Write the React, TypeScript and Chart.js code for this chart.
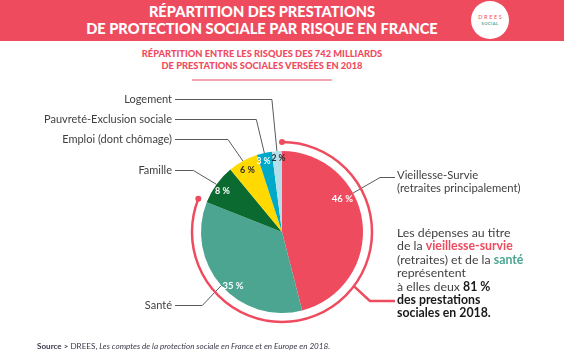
import React, { useEffect, useRef } from "react";
import { Chart, registerables } from "chart.js";

Chart.register(...registerables);

// ---- data ----
const categories = [
  "Vieillesse-Survie",
  "Santé",
  "Famille",
  "Emploi (dont chômage)",
  "Pauvreté-Exclusion sociale",
  "Logement",
];
const shares = [46, 35, 8, 6, 3, 2];
const shareLabels = ["46 %", "35 %", "8 %", "6 %", "3 %", "2 %"];

// ---- styles ----
const PINK = "#ef4b5f";
const TEAL = "#4ba591";
const sliceColors = [PINK, TEAL, "#0b6a30", "#ffd900", "#00a9c8", "#b4deea"];
const labelColors = ["#ffffff", "#ffffff", "#ffffff", "#2b2b2b", "#ffffff", "#2b2b2b"];
const labelAnchor = [0.37, 0.45, 0.44, 0.49, 0.3, 0.62];
const labelRadius = [0.85, 0.9, 0.89, 0.88, 0.9, 0.91];
const labelSize = [9.5, 9.5, 9, 9, 8.5, 8.5];
const leaderAnchor = [0.37, 0.5, 0.5, 0.5, 0.5, 0.5];
const leaderTextY = [177, 305, 170, 139, 119, 99];
const leaderElbowDx = [27, -19, -23, -15, -8, -5];
const LEFT_LINE_END = 175;
const RIGHT_LINE_END = 395;

const overlayPlugin = {
  id: "overlay",
  afterDatasetsDraw(chart: any) {
    const ctx = chart.ctx;
    const arcs = chart.getDatasetMeta(0).data;
    if (!arcs.length) return;
    const pt = (arc: any, frac: number, rf: number) => {
      const p = arc.getProps(["x", "y", "startAngle", "endAngle", "outerRadius"], true);
      const a = p.startAngle + frac * (p.endAngle - p.startAngle);
      return { x: p.x + Math.cos(a) * p.outerRadius * rf, y: p.y + Math.sin(a) * p.outerRadius * rf };
    };
    ctx.save();
    // percentage labels
    ctx.textAlign = "center";
    ctx.textBaseline = "middle";
    arcs.forEach((arc: any, i: number) => {
      const q = pt(arc, labelAnchor[i], labelRadius[i]);
      ctx.font = `bold ${labelSize[i]}px Lato, 'Open Sans', sans-serif`;
      ctx.fillStyle = labelColors[i];
      ctx.fillText(shareLabels[i], q.x, q.y);
    });
    // leader lines
    ctx.strokeStyle = "#5a5a5a";
    ctx.lineWidth = 1;
    arcs.forEach((arc: any, i: number) => {
      const e = pt(arc, leaderAnchor[i], 1);
      const ex = e.x + leaderElbowDx[i];
      const end = i === 0 ? RIGHT_LINE_END : LEFT_LINE_END;
      ctx.beginPath();
      ctx.moveTo(e.x, e.y);
      ctx.lineTo(ex, leaderTextY[i] + 0.5);
      ctx.lineTo(end, leaderTextY[i] + 0.5);
      ctx.stroke();
    });
    // red highlight arc around the two largest slices
    const a0 = arcs[0].getProps(["x", "y", "startAngle", "outerRadius"], true);
    const a1 = arcs[1].getProps(["endAngle"], true);
    const R = a0.outerRadius + 9;
    ctx.strokeStyle = PINK;
    ctx.fillStyle = PINK;
    ctx.lineWidth = 2.5;
    ctx.beginPath();
    ctx.arc(a0.x, a0.y, R, a0.startAngle, a1.endAngle);
    ctx.stroke();
    [a0.startAngle, a1.endAngle].forEach((a: number) => {
      ctx.beginPath();
      ctx.arc(a0.x + Math.cos(a) * R, a0.y + Math.sin(a) * R, 3, 0, Math.PI * 2);
      ctx.fill();
    });
    // connector from arc to the comment
    const ca = a0.startAngle + (127 / 360) * Math.PI * 2;
    const cx = a0.x + Math.cos(ca) * R;
    const cy = a0.y + Math.sin(ca) * R;
    ctx.beginPath();
    ctx.moveTo(cx, cy);
    ctx.lineTo(cx + 16, 301);
    ctx.lineTo(RIGHT_LINE_END, 301);
    ctx.stroke();
    ctx.restore();
  },
};

const textStyle: React.CSSProperties = {
  position: "absolute",
  fontFamily: "Lato, 'Open Sans', sans-serif",
  color: "#3f3f3f",
  whiteSpace: "nowrap",
};

function LeftLabel({ y, text }: { y: number; text: string }) {
  return (
    <div style={{ ...textStyle, right: 564 - 172, top: y - 7, fontSize: 11, lineHeight: "14px", textAlign: "right" }}>
      {text}
    </div>
  );
}

export default function App() {
  const ref = useRef<HTMLCanvasElement | null>(null);
  useEffect(() => {
    if (!ref.current) return;
    const chart = new Chart(ref.current, {
      type: "pie",
      data: {
        labels: categories,
        datasets: [{ data: shares, backgroundColor: sliceColors, borderWidth: 0 }],
      },
      options: {
        responsive: false,
        animation: false,
        layout: { padding: { left: 201, right: 201, top: 151, bottom: 43 } },
        plugins: { legend: { display: false }, tooltip: { enabled: false } },
      },
      plugins: [overlayPlugin],
    });
    return () => chart.destroy();
  }, []);

  return (
    <div style={{ position: "absolute", left: 0, top: 0, width: 564, height: 356, background: "#fff", overflow: "hidden" }}>
      {/* header band */}
      <div style={{ position: "absolute", left: 0, top: 0, width: 564, height: 41, background: PINK }} />
      <div
        style={{
          position: "absolute", left: 0, top: 3, width: 524, textAlign: "center", color: "#fff",
          fontFamily: "Lato, 'Open Sans', sans-serif", fontWeight: 900, fontSize: 14.6, lineHeight: "17px",
        }}
      >
        RÉPARTITION DES PRESTATIONS
        <br />
        DE PROTECTION SOCIALE PAR RISQUE EN FRANCE
      </div>
      {/* logo */}
      <div
        style={{
          position: "absolute", left: 471, top: 1, width: 38, height: 38, borderRadius: "50%", background: "#fff",
          display: "flex", flexDirection: "column", alignItems: "center", justifyContent: "center",
          fontFamily: "Lato, sans-serif",
        }}
      >
        <div style={{ color: PINK, fontSize: 5.5, letterSpacing: 1.6, lineHeight: "7px", marginLeft: 1.6 }}>DREES</div>
        <div style={{ color: TEAL, fontSize: 4, fontWeight: 700, letterSpacing: 0.5, lineHeight: "5px" }}>SOCIAL</div>
      </div>
      {/* subtitle */}
      <div
        style={{
          position: "absolute", left: 0, top: 48, width: 524, textAlign: "center", color: PINK,
          fontFamily: "Lato, 'Open Sans', sans-serif", fontWeight: 900, fontSize: 9.3, lineHeight: "12px",
        }}
      >
        RÉPARTITION ENTRE LES RISQUES DES 742 MILLIARDS
        <br />
        DE PRESTATIONS SOCIALES VERSÉES EN 2018
      </div>
      <div style={{ position: "absolute", left: 192, top: 79, width: 140, height: 2, background: "#f5a7b1" }} />

      <canvas ref={ref} width={564} height={356} style={{ position: "absolute", left: 0, top: 0, width: 564, height: 356 }} />

      {/* left labels */}
      <LeftLabel y={99} text="Logement" />
      <LeftLabel y={119} text="Pauvreté-Exclusion sociale" />
      <LeftLabel y={139} text="Emploi (dont chômage)" />
      <LeftLabel y={170} text="Famille" />
      <LeftLabel y={305} text="Santé" />

      {/* right label */}
      <div style={{ ...textStyle, left: 397, top: 169, fontSize: 11.3, lineHeight: "12.5px" }}>
        Vieillesse-Survie
        <br />
        (retraites principalement)
      </div>

      {/* comment */}
      <div style={{ ...textStyle, left: 397, top: 226, fontSize: 12.3, lineHeight: "13.4px" }}>
        Les dépenses au titre
        <br />
        de la <b style={{ color: PINK }}>vieillesse-survie</b>
        <br />
        (retraites) et de la <b style={{ color: TEAL }}>santé</b>
        <br />
        représentent
        <br />
        à elles deux <b style={{ color: "#1a1a1a" }}>81 %</b>
        <br />
        <b style={{ color: "#1a1a1a" }}>des prestations</b>
        <br />
        <b style={{ color: "#1a1a1a" }}>sociales en 2018.</b>
      </div>

      {/* source */}
      <div style={{ ...textStyle, left: 37, top: 341, fontSize: 8.1, lineHeight: "10px", color: "#3a3a4a" }}>
        <b>Source &gt;</b> DREES, <i>Les comptes de la protection sociale en France et en Europe en 2018.</i>
      </div>
    </div>
  );
}
